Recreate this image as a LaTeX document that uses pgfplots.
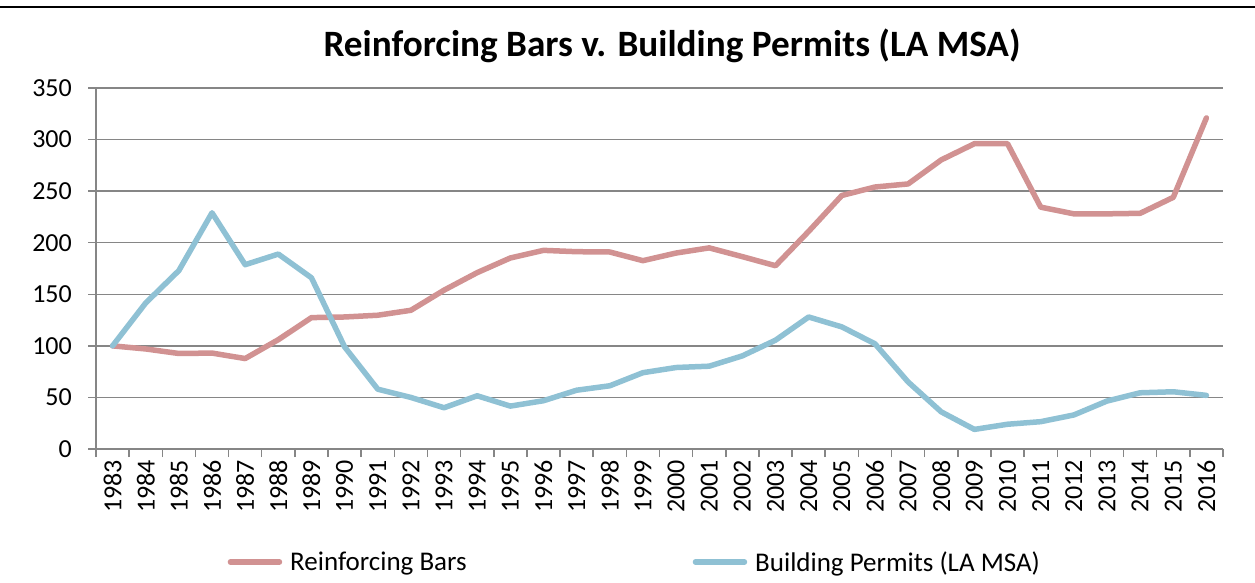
\documentclass[border=0pt]{standalone}
\usepackage{pgfplots}
\pgfplotsset{compat=1.18}
\usepackage{fontspec}
\setmainfont{Carlito}
\definecolor{redline}{RGB}{209,146,146}
\definecolor{blueline}{RGB}{143,193,212}
\definecolor{gridgray}{RGB}{134,134,134}
\begin{document}
\begin{tikzpicture}
\path[use as bounding box] (0pt,0pt) rectangle (1255pt,582pt);
\draw[black, line width=1.4pt] (0pt,575pt) -- (1255pt,575pt);
\node[anchor=base, inner sep=0pt, font=\fontsize{37.2}{37.2}\selectfont\bfseries] at (672pt,525pt) {Reinforcing Bars v. Building Permits (LA MSA)};
\begin{axis}[
  at={(96pt,133pt)}, anchor=south west,
  scale only axis, width=1127pt, height=361pt,
  xmin=-0.5, xmax=33.5, ymin=0, ymax=350,
  axis x line=bottom, axis y line=left,
  axis line style={draw=gridgray, line width=1.5pt, -},
  ytick={0,50,...,350},
  xtick={0,...,33},
  xticklabels={1983,1984,1985,1986,1987,1988,1989,1990,1991,1992,1993,1994,1995,1996,1997,1998,1999,2000,2001,2002,2003,2004,2005,2006,2007,2008,2009,2010,2011,2012,2013,2014,2015,2016},
  minor xtick={-0.5,0.5,...,33.5},
  major x tick style={draw=none},
  tick align=outside,
  major tick length=8pt, minor tick length=8pt,
  tick style={draw=gridgray, line width=1.5pt},
  minor tick style={draw=gridgray, line width=1.5pt},
  ymajorgrids, major grid style={draw=gridgray, line width=1.5pt},
  /pgf/number format/assume math mode=true,
  tick label style={font=\fontsize{26}{26}\selectfont},
  yticklabel style={inner sep=0pt, xshift=-16pt},
  xticklabel style={yshift=-3pt, rotate=90, anchor=east, inner sep=0pt},
  legend style={at={(axis description cs:0.479,-0.313)}, anchor=center, draw=none, fill=none,
    font=\fontsize{27}{27}\selectfont, legend columns=2,
    /tikz/every odd column/.append style={column sep=4pt},
    /tikz/every even column/.append style={column sep=222pt},
    legend cell align=left, inner sep=0pt,
    nodes={inner sep=4pt}},
  legend image code/.code={\draw[#1, line width=5.5pt, line cap=round] (0pt,0pt) -- (49pt,0pt);},
  clip=false,
]
\addplot[redline, line width=5.5pt, line join=round, line cap=round] coordinates {
(0,100) (1,97) (2,92.6) (3,93) (4,87.7) (5,106) (6,127.4) (7,128) (8,129.7) (9,134.5)
(10,154) (11,171) (12,185.2) (13,192.6) (14,191.3) (15,191) (16,182.6) (17,190) (18,195) (19,186.5)
(20,177.7) (21,211) (22,245.8) (23,254) (24,257) (25,280.3) (26,296) (27,296) (28,234.5) (29,228)
(30,228) (31,228.5) (32,244) (33,321)};
\addlegendentry{Reinforcing Bars}
\addplot[blueline, line width=5.5pt, line join=round, line cap=round] coordinates {
(0,100) (1,141.6) (2,173) (3,229) (4,178.7) (5,189) (6,166) (7,99) (8,58) (9,50)
(10,40) (11,51.6) (12,41.6) (13,46.8) (14,57) (15,61.3) (16,74) (17,79) (18,80.3) (19,90.3)
(20,105.5) (21,128) (22,118.4) (23,102) (24,65) (25,36) (26,19) (27,24) (28,26.5) (29,33)
(30,46.5) (31,54.5) (32,55.5) (33,52)};
\addlegendentry{Building Permits (LA MSA)}
\end{axis}
\end{tikzpicture}
\end{document}
